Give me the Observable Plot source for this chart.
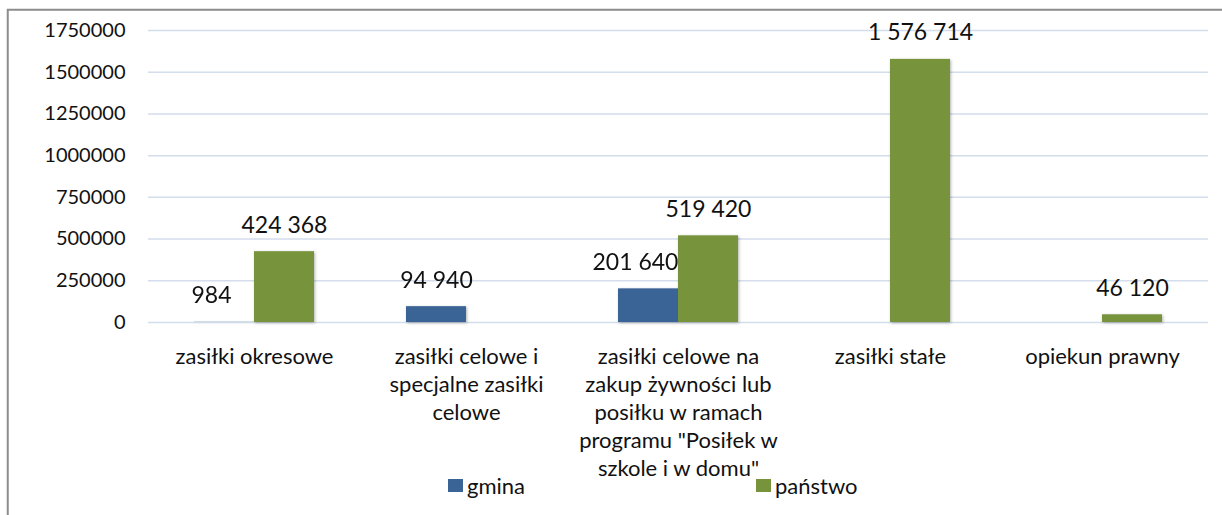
<!DOCTYPE html>
<html>
<head>
<meta charset="utf-8">
<script src="https://cdn.jsdelivr.net/npm/d3@7"></script>
<script src="https://cdn.jsdelivr.net/npm/@observablehq/plot@0.6"></script>
<style>
  html, body { margin: 0; padding: 0; background: #fff; }
  #wrap { position: relative; width: 1222px; height: 515px; overflow: hidden; font-family: Lato, sans-serif; }
  #chart svg { display: block; }
  #chart svg g[aria-label="bar"] { filter: drop-shadow(1px 1px 1.5px rgba(0,0,0,0.3)); }
  #legend { position: absolute; top: 472px; left: 448px; display: flex; font-size: 22px; color: #111; z-index: 5; }
  .item { display: flex; align-items: center; }
  .sw { width: 15px; height: 13px; margin-right: 4px; }
  #border { position: absolute; left: 0; top: 0; z-index: 20; pointer-events: none; }
</style>
</head>
<body>
<div id="wrap">
  <div id="chart"></div>
  <div id="legend"></div>
  <svg id="border" width="1222" height="515"><path d="M7.75,515V9.75H1222" fill="none" stroke="#8c8c8c" stroke-width="2"/></svg>
</div>
<script>
const categories = [
  "zasiłki okresowe",
  "zasiłki celowe i specjalne zasiłki celowe",
  "zasiłki celowe na zakup żywności lub posiłku w ramach programu \"Posiłek w szkole i w domu\"",
  "zasiłki stałe",
  "opiekun prawny"
];
const categoryLabels = [
  "zasiłki okresowe",
  "zasiłki celowe i\nspecjalne zasiłki\ncelowe",
  "zasiłki celowe na\nzakup żywności lub\nposiłku w ramach\nprogramu \"Posiłek w\nszkole i w domu\"",
  "zasiłki stałe",
  "opiekun prawny"
];
const series = ["gmina", "państwo"];
const gmina = [984, 94940, 201640, null, null];
const panstwo = [424368, null, 519420, 1576714, 46120];
const yTicks = [0, 250000, 500000, 750000, 1000000, 1250000, 1500000, 1750000];
const colors = ["#3b6496", "#77933c"];

const rows = [];
categories.forEach((c, i) => {
  if (gmina[i] != null) rows.push({category: c, series: "gmina", value: gmina[i], paired: panstwo[i] != null});
  if (panstwo[i] != null) rows.push({category: c, series: "państwo", value: panstwo[i], paired: false});
});
const fmt = v => d3.format(",")(v).replace(/,/g, " ");

const chart = Plot.plot({
  width: 1222,
  height: 515,
  marginTop: 30,
  marginBottom: 193,
  marginLeft: 148,
  marginRight: 14,
  style: {fontFamily: "Lato, sans-serif", fontSize: "20px", color: "#111", background: "transparent"},
  fx: {domain: categories, padding: 0, axis: null},
  x: {domain: series, paddingInner: 0, paddingOuter: 0.74, axis: null},
  y: {domain: [0, 1750000], axis: null},
  color: {domain: series, range: colors},
  marks: [
    Plot.gridY(yTicks, {stroke: "#d3ddec", strokeOpacity: 1, strokeWidth: 1.5}),
    Plot.axisY({ticks: yTicks, tickFormat: d => String(d), tickSize: 0, tickPadding: 23, label: null, fontSize: 20}),
    Plot.axisFx({anchor: "bottom", tickFormat: d => categoryLabels[categories.indexOf(d)], tickSize: 0, tickPadding: 21, lineHeight: 1.28, label: null, fontSize: 22}),
    Plot.barY(rows, {fx: "category", x: "series", y: "value", fill: "series"}),
    Plot.text(rows.filter(d => !d.paired), {fx: "category", x: "series", y: "value", text: d => fmt(d.value), lineAnchor: "bottom", dy: -19, fontSize: 23, fill: "#111"}),
    Plot.text(rows.filter(d => d.paired), {fx: "category", x: "series", y: "value", text: d => fmt(d.value), lineAnchor: "bottom", dy: -19, dx: -13, fontSize: 23, fill: "#111"})
  ]
});
document.getElementById("chart").appendChild(chart);

const legend = document.getElementById("legend");
series.forEach((s, i) => {
  const it = document.createElement("div");
  it.className = "item";
  if (i === 0) it.style.width = "308px";
  const sw = document.createElement("div");
  sw.className = "sw";
  sw.style.background = colors[i];
  const t = document.createElement("span");
  t.textContent = s;
  it.appendChild(sw);
  it.appendChild(t);
  legend.appendChild(it);
});
</script>
</body>
</html>
